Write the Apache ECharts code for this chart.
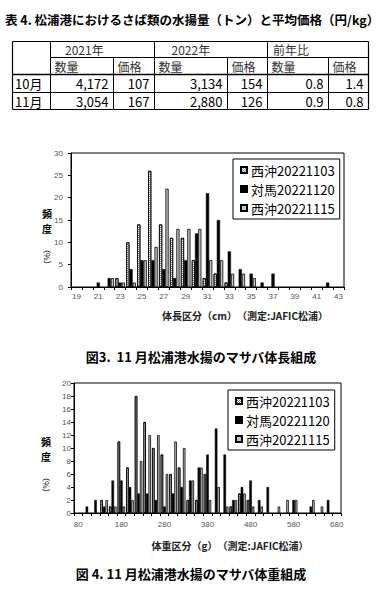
<!DOCTYPE html>
<html><head><meta charset="utf-8">
<script src="https://cdn.jsdelivr.net/npm/echarts@6/dist/echarts.min.js"></script>
<style>html,body{margin:0;padding:0;background:#fff}#c{width:381px;height:589px}</style>
</head><body><div id="c"></div>
<script>
// ---- data ----
const titleText = '表 4. 松浦港におけるさば類の水揚量（トン）と平均価格（円/kg）';
const tableYears = ['2021年', '2022年', '前年比'];
const tableFields = ['数量', '価格', '数量', '価格', '数量', '価格'];
const tableMonths = ['10月', '11月'];
const tableOct = [4172, 107, 3134, 154, 0.8, 1.4];
const tableNov = [3054, 167, 2880, 126, 0.9, 0.8];

const seriesNames = ['西沖20221103', '対馬20221120', '西沖20221115'];

const lenCategories = ['19','20','21','22','23','24','25','26','27','28','29','30','31','32','33','34','35','36','37','38','39','40','41','42','43'];
const lenNishi1103   = [0,0,0,0,2,10,14,26,14,11,11,6,2,3,1,0,0,0,0,0,0,0,0,0,0];
const lenTsushima1120 = [0,0,1,2,1,4,6,6,4,2,6,12,21,15,8,4,3,1,3,0,0,0,0,1,0];
const lenNishi1115   = [0,0,0,2,1,1,6,9,22,13,13,13,6,6,3,3,2,0,0,0,0,0,0,0,0];

const wtCategories = ['80','100','120','140','160','180','200','220','240','260','280','300','320','340','360','380','400','420','440','460','480','500','520','540','560','580','600','620','640','660','680'];
const wtNishi1103   = [0,0,0,2,1,11,7,18,14,10,9,6,7,2,2,6,0,0,1,3,2,0,0,0,0,0,0,0,0,0,0];
const wtTsushima1120 = [0,1,2,1,5,5,4,3,3,2,1,3,4,5,7,9,13,9,2,4,5,2,4,0,0,2,0,1,0,2,0];
const wtNishi1115   = [0,0,0,2,1,1,2,8,12,12,6,11,10,5,7,2,4,1,2,3,1,1,0,1,2,2,0,2,1,0,0];

const lenAxisTitle = '体長区分（cm）　（測定:JAFIC松浦）';
const wtAxisTitle = '体重区分（g）　（測定:JAFIC松浦）';
const lenCaption = '図3.  11 月松浦港水揚のマサバ体長組成';
const wtCaption = '図 4. 11 月松浦港水揚のマサバ体重組成';

// ---- drawing ----
const JP = '"Noto Sans CJK JP", sans-serif';
const G = [];
function txt(x, y, text, font, align, fill, rot, lh) {
  const st = {text: text, font: font, fill: fill || '#000', textAlign: align || 'left', textVerticalAlign: 'middle'};
  if (lh) st.lineHeight = lh;
  G.push({type: 'text', silent: true, x: x, y: y, rotation: rot || 0, style: st});
}
function ln(x1, y1, x2, y2, w) {
  G.push({type: 'line', silent: true, shape: {x1: x1, y1: y1, x2: x2, y2: y2}, style: {stroke: '#000', lineWidth: w || 1}});
}

txt(5, 19, titleText, 'bold 12.5px ' + JP);

// table
const cx = [12.5, 50.5, 113.5, 154.5, 227.5, 267.5, 328.5, 368.5];
const ry = [41.5, 57.5, 74.5, 92.5, 109.5];
ln(cx[0], ry[0], cx[7], ry[0], 1.2);
ln(cx[0], ry[4], cx[7], ry[4], 1.2);
ln(cx[0], ry[0], cx[0], ry[4], 1.2);
ln(cx[7], ry[0], cx[7], ry[4], 1.2);
ln(cx[1], ry[1], cx[7], ry[1]);
ln(cx[0], ry[2], cx[7], ry[2], 1.5);
ln(cx[0], ry[3], cx[7], ry[3]);
[1, 3, 5].forEach(i => ln(cx[i], ry[0], cx[i], ry[4]));
[2, 4, 6].forEach(i => ln(cx[i], ry[1], cx[i], ry[4]));
const yearX = [65, 171.5, 273];
tableYears.forEach((t, i) => txt(yearX[i], (ry[0] + ry[1]) / 2, t, '12px ' + JP, 'left', '#333', 0, 13));
tableFields.forEach((t, i) => txt(cx[i + 1] + 4, (ry[1] + ry[2]) / 2, t, '12px ' + JP, 'left', '#333', 0, 13));
tableMonths.forEach((t, i) => txt(15, (ry[2 + i] + ry[3 + i]) / 2, t, '13px ' + JP, 'left', '#000', 0, 14));
[tableOct, tableNov].forEach((row, r) => row.forEach((v, i) =>
  txt(cx[i + 2] - 5, (ry[2 + r] + ry[3 + r]) / 2, v.toLocaleString('en-US'), '13px ' + JP, 'right', '#000', 0, 14)));

// axis titles & captions
function yTitle(x, y0) {
  txt(x, y0, '頻', 'bold 10px ' + JP, 'center', '#000', 0, 12);
  txt(x, y0 + 15, '度', 'bold 10px ' + JP, 'center', '#000', 0, 12);
  txt(x, y0 + 44, '（%）', '8px ' + JP, 'center', '#000', -Math.PI / 2);
}
yTitle(47, 213);
yTitle(46, 441);
txt(245, 315, lenAxisTitle, 'bold 10px ' + JP, 'center', '#222');
txt(230, 545, wtAxisTitle, 'bold 10px ' + JP, 'center', '#222');
txt(201, 356, lenCaption, 'bold 13px ' + JP, 'center');
txt(191, 573, wtCaption, 'bold 13px ' + JP, 'center');

const nz = a => a.map(v => (v === 0 ? null : v));
const styles = [
  {color: '#fff', borderColor: '#000', borderWidth: 0.8,
   decal: {symbol: 'rect', symbolSize: 1, dashArrayX: [[1, 1], [0, 1, 1, 0]], dashArrayY: [1, 0], color: '#888', rotation: 0}},
  {color: '#000', borderColor: '#000', borderWidth: 0.5},
  {color: '#c4c4c4', borderColor: '#000', borderWidth: 0.8}
];
function mkSeries(arrs, gi) {
  return arrs.map((a, k) => ({
    type: 'bar', name: seriesNames[k], xAxisIndex: gi, yAxisIndex: gi,
    data: nz(a), barGap: '0%', barCategoryGap: '12%', itemStyle: styles[k], silent: true
  }));
}
function legend(left, top) {
  return {left: left, top: top, orient: 'vertical', icon: 'rect', itemWidth: 6, itemHeight: 6, itemGap: 5,
    borderColor: '#000', borderWidth: 1, padding: [4, 5, 4, 7], selectedMode: false,
    textStyle: {fontSize: 13, color: '#000', fontFamily: JP, lineHeight: 14, padding: [0, 0, 0, -1]},
    data: seriesNames};
}
function xAx(gi, cats, every, margin) {
  return {gridIndex: gi, type: 'category', data: cats,
    axisLine: {lineStyle: {color: '#000', width: 1}},
    axisTick: {show: true, interval: 0, length: 3, lineStyle: {color: '#000'}},
    axisLabel: {interval: every, fontSize: 8, color: '#555', margin: margin, fontFamily: 'Liberation Sans, Arial'}};
}
function yAx(gi, max, step, margin) {
  return {gridIndex: gi, type: 'value', min: 0, max: max, interval: step,
    axisLine: {show: true, lineStyle: {color: '#000', width: 1}},
    axisTick: {show: true, length: 3, lineStyle: {color: '#000'}},
    splitLine: {show: false},
    axisLabel: {fontSize: 8, color: '#555', margin: margin, fontFamily: 'Liberation Sans, Arial'}};
}

const chart = echarts.init(document.getElementById('c'), null, {renderer: 'svg'});
chart.setOption({
  animation: false,
  backgroundColor: '#fff',
  textStyle: {fontFamily: JP},
  grid: [
    {left: 71, top: 153, width: 273, height: 134, show: true, borderColor: '#000', borderWidth: 1, backgroundColor: 'transparent'},
    {left: 74, top: 383, width: 267, height: 130, show: true, borderColor: '#000', borderWidth: 1, backgroundColor: 'transparent'}
  ],
  legend: [legend(233, 159), legend(228, 390)],
  xAxis: [xAx(0, lenCategories, 1, 5), xAx(1, wtCategories, 4, 7)],
  yAxis: [yAx(0, 30, 5, 8), yAx(1, 20, 2, 3)],
  series: mkSeries([lenNishi1103, lenTsushima1120, lenNishi1115], 0)
    .concat(mkSeries([wtNishi1103, wtTsushima1120, wtNishi1115], 1)),
  graphic: G
});
</script>
</body></html>
